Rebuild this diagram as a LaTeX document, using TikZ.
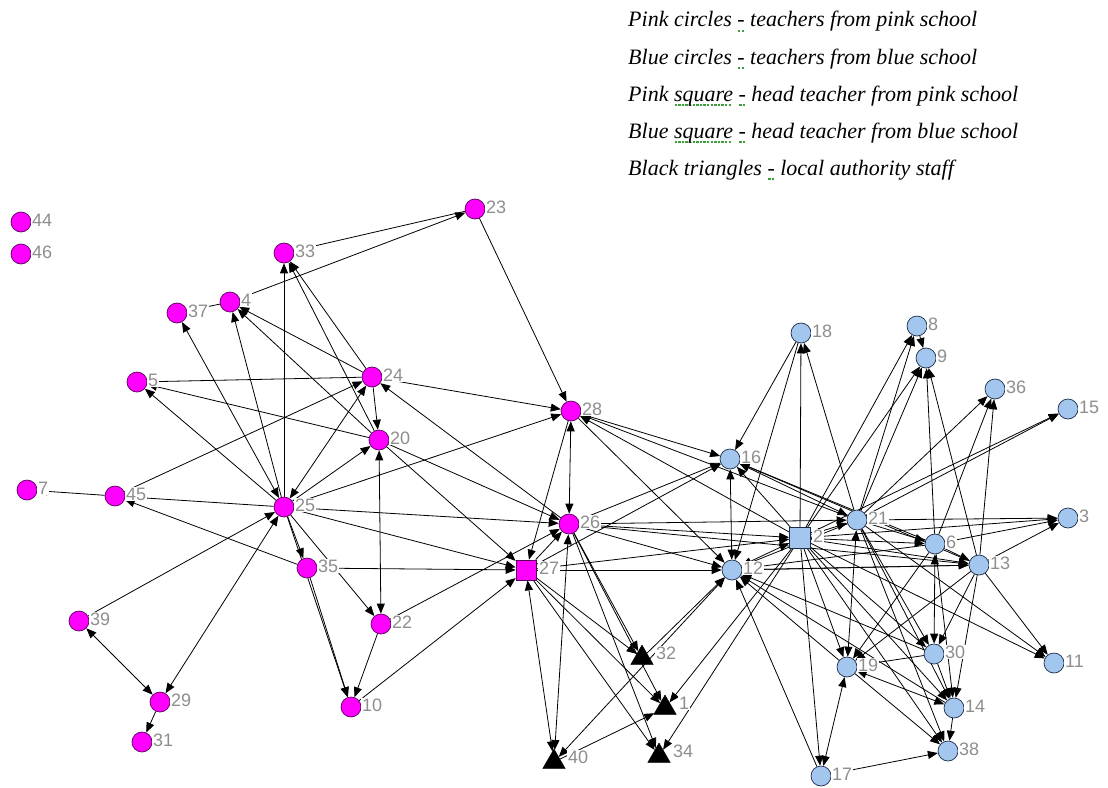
\documentclass[tikz,border=0pt]{standalone}
\usepackage{fontspec}
\setmainfont{Liberation Serif}
\newfontfamily\lblfont{Liberation Sans}
\usetikzlibrary{shapes.geometric,arrows.meta}
\pgfdeclarelayer{bg}
\pgfdeclarelayer{edges}
\pgfsetlayers{bg,edges,main}
\definecolor{pinkf}{HTML}{FF00FF}
\definecolor{pinkd}{HTML}{5A005A}
\definecolor{bluef}{HTML}{A3C6EE}
\definecolor{blued}{HTML}{1C2C48}
\definecolor{lblgray}{HTML}{8E8E8E}
\definecolor{spellgreen}{HTML}{3E9E3E}
\newsavebox\spbox
\newcommand\sqg[1]{\sbox\spbox{#1}\rlap{\raisebox{-5pt}{\color{spellgreen}\hbox to \wd\spbox{\leaders\hbox to 3.6pt{\hss\vrule width 2.4pt height 2.2pt depth 0pt\hss}\hfill}}}\usebox\spbox}
\tikzset{
 pc/.style={circle,draw=pinkd,fill=pinkf,line width=0.7pt,minimum size=20pt,inner sep=0pt},
 bc/.style={circle,draw=blued,fill=bluef,line width=0.7pt,minimum size=20pt,inner sep=0pt},
 psq/.style={rectangle,draw=pinkd,fill=pinkf,line width=0.7pt,minimum size=20pt,inner sep=0pt},
 bsq/.style={rectangle,draw=blued,fill=bluef,line width=0.7pt,minimum size=21pt,inner sep=0pt},
 tri/.style={regular polygon,regular polygon sides=3,fill=black,draw=black,minimum size=26pt,inner sep=0pt},
 lbl/.style={anchor=west,text=lblgray,font=\lblfont\fontsize{18}{18}\selectfont,inner sep=1pt,fill=white},
 e/.style={-{Triangle[length=10pt,width=8pt]},line width=0.8pt},
 ee/.style={{Triangle[length=10pt,width=8pt]}-{Triangle[length=10pt,width=8pt]},line width=0.8pt},
 leg/.style={anchor=base west,font=\itshape\fontsize{22}{22}\selectfont,inner sep=0pt}
}
\newcommand\PC[3]{\node[pc] (n#1) at (#2,#3) {}; \node[lbl] at (#2+10,#3-2) {#1};}
\newcommand\BC[3]{\node[bc] (n#1) at (#2,#3) {}; \node[lbl] at (#2+10,#3-2) {#1};}
\newcommand\TR[3]{\node[tri] (n#1) at (#2,#3+3) {}; \node[lbl] at (#2+13,#3-2) {#1};}
\begin{document}
\begin{tikzpicture}[x=1pt,y=-1pt]
\begin{pgfonlayer}{bg}
\path[fill=white] (0,0) rectangle (1108,787);
\end{pgfonlayer}
\path[use as bounding box] (0,0) rectangle (1108,787);
% legend
\node[leg] (l1) at (628,27) {Pink circles \sqg{-} teachers from pink school};
\node[leg] (l2) at (628,64) {Blue circles \sqg{-} teachers from blue school};
\node[leg] (l3) at (628,101) {Pink \sqg{square} \sqg{-} head teacher from pink school};
\node[leg] (l4) at (628,138) {Blue \sqg{square} \sqg{-} head teacher from blue school};
\node[leg] (l5) at (628,175) {Black triangles \sqg{-} local authority staff};
% pink school
\PC{44}{21}{222} \PC{46}{21}{254} \PC{23}{475}{209} \PC{33}{284}{253}
\PC{4}{230}{302} \PC{37}{177}{313} \PC{5}{137}{382} \PC{24}{372}{377}
\PC{28}{571}{411} \PC{20}{379}{440} \PC{7}{27}{490} \PC{45}{115}{496}
\PC{25}{284}{507} \PC{26}{569}{524} \PC{35}{307}{568} \PC{22}{381}{624}
\PC{39}{79}{621} \PC{29}{160}{702} \PC{31}{142}{742} \PC{10}{351}{707}
\node[psq] (n27) at (526,570) {}; \node[lbl] at (538,568) {27};
% local authority
\TR{32}{642}{655} \TR{1}{665}{705} \TR{40}{554}{759} \TR{34}{659}{753}
% blue school
\BC{18}{801}{333} \BC{8}{917}{326} \BC{9}{926}{358} \BC{36}{995}{389}
\BC{15}{1068}{409} \BC{16}{730}{459} \BC{21}{857}{520} \BC{6}{935}{544}
\BC{3}{1068}{518} \BC{13}{979}{565} \BC{12}{732}{570} \BC{30}{934}{654}
\BC{19}{847}{667} \BC{11}{1054}{663} \BC{14}{954}{708} \BC{38}{948}{751}
\BC{17}{821}{776}
\node[bsq] (n2) at (800,538) {}; \node[lbl] at (812,536) {2};
\begin{pgfonlayer}{edges}
\foreach \a/\b in {25/33, 24/33, 20/33, 23/33, 4/23, 25/4, 24/4, 20/4, 4/37,
 25/5, 20/5, 24/5, 25/45, 35/45, 45/24, 45/7, 39/25, 29/31, 25/35, 25/10,
 35/10, 25/22, 22/10, 25/20, 25/28, 25/26, 25/27, 24/20, 24/28, 20/26, 20/27,
 26/24, 23/28, 28/27, 28/16, 28/12, 21/28, 2/28, 26/16, 27/16, 26/12, 26/2,
 26/21, 26/13, 26/32, 26/1, 26/34, 27/26, 22/26, 10/27, 35/27, 27/32, 27/1, 27/34,
 27/12, 27/2, 32/12, 40/1, 2/1, 2/34, 17/12, 18/16, 18/12, 2/18, 21/18, 2/16,
 6/16, 13/16, 2/8, 21/8, 2/9, 21/9, 8/9, 6/9, 13/9, 21/36, 6/36, 13/36, 21/15,
 2/15, 21/3, 2/3, 13/3, 6/3, 21/6, 2/6, 6/13, 2/13, 12/13, 21/12, 6/12, 30/12,
 19/12, 14/12, 13/12, 2/19, 2/17, 17/38, 30/19, 6/19, 13/19, 13/30, 21/30,
 2/30, 2/14, 21/14, 13/14, 6/14, 30/14, 14/38, 2/38, 21/38, 19/38, 13/11,
 2/11, 21/11}
 {\draw[e] (n\a) -- (n\b);}
\foreach \a/\b in {25/37, 39/29, 25/29, 25/24, 20/22, 28/26, 26/40, 27/40,
 40/12, 12/16, 16/21, 2/21, 12/2, 21/19, 17/19, 19/14, 6/30}
 {\draw[ee] (n\a) -- (n\b);}
\end{pgfonlayer}
\end{tikzpicture}
\end{document}
